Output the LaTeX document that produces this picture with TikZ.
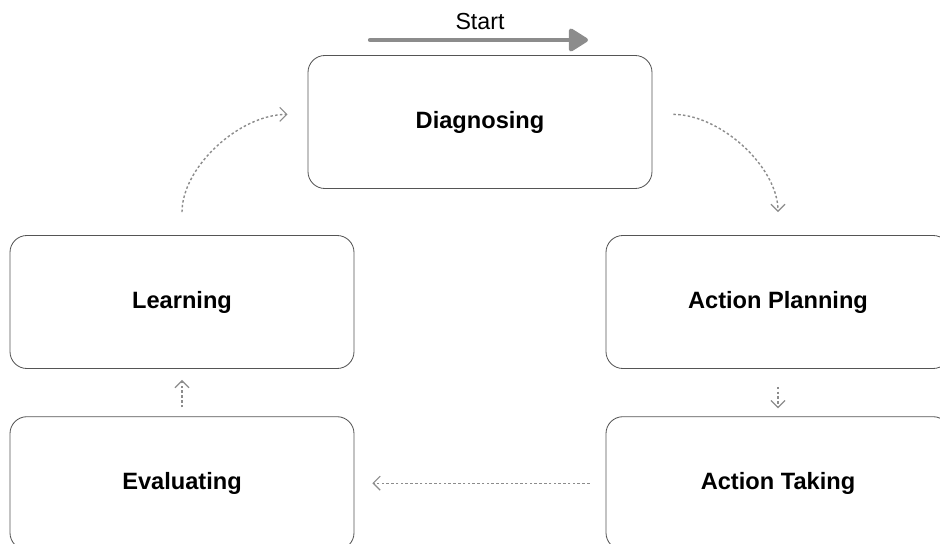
\documentclass[tikz,border=0pt]{standalone}
\usepackage{fontspec}
\setmainfont{Liberation Sans}
\usepackage{tikz}
\usetikzlibrary{arrows.meta, positioning, calc}
\definecolor{boxgray}{RGB}{85, 85, 85}
\definecolor{dotgray}{RGB}{140, 140, 140}
\definecolor{startgray}{RGB}{140, 140, 140}

\begin{document}
\begin{tikzpicture}[
    stagebox/.style={draw=boxgray, line width=0.6pt, rounded corners=12pt, minimum width=8.6cm, minimum height=3.325cm, font=\fontsize{16.8}{19}\selectfont\bfseries},
    flowarrow/.style={draw=dotgray, line width=1pt, dash pattern=on 1.8pt off 1.6pt, -{Straight Barb[length=5pt, width=10pt, line width=0.8pt]}}
  ]
  \useasboundingbox (0, 0) rectangle (23.5, -13.6);

  % stages of the cycle
  \node[stagebox] (diag) at (12.0, -3.05) {Diagnosing};
  \node[stagebox] (learn) at (4.55, -7.55) {Learning};
  \node[stagebox] (plan) at (19.45, -7.55) {Action Planning};
  \node[stagebox] (eval) at (4.55, -12.08) {Evaluating};
  \node[stagebox] (take) at (19.45, -12.08) {Action Taking};

  % start marker
  \node[font=\fontsize{16.5}{19}\selectfont] (startlbl) at (12.0, -0.55) {Start};
  \coordinate (startA) at (9.25, -1.0);
  \coordinate (startB) at (14.7, -1.0);
  \draw[startgray, line width=3pt, line cap=round, -{Triangle[length=15pt, width=18pt, round=false]}] (startA) -- (startB);

  % dotted flow
  \draw[flowarrow, shorten <=0.575cm, shorten >=0.5cm] (learn.north) to[out=90, in=180] ([yshift=0.19cm]diag.west);
  \draw[flowarrow, shorten <=0.525cm, shorten >=0.575cm] ([yshift=0.19cm]diag.east) to[out=0, in=90] (plan.north);
  \draw[flowarrow, shorten <=0.45cm, shorten >=0.2cm] (plan.south) -- (take.north);
  \draw[flowarrow, shorten <=0.4cm, shorten >=0.45cm] (take.west) -- (eval.east);
  \draw[flowarrow, shorten <=0.225cm, shorten >=0.275cm] (eval.north) -- (learn.south);
\end{tikzpicture}
\end{document}
